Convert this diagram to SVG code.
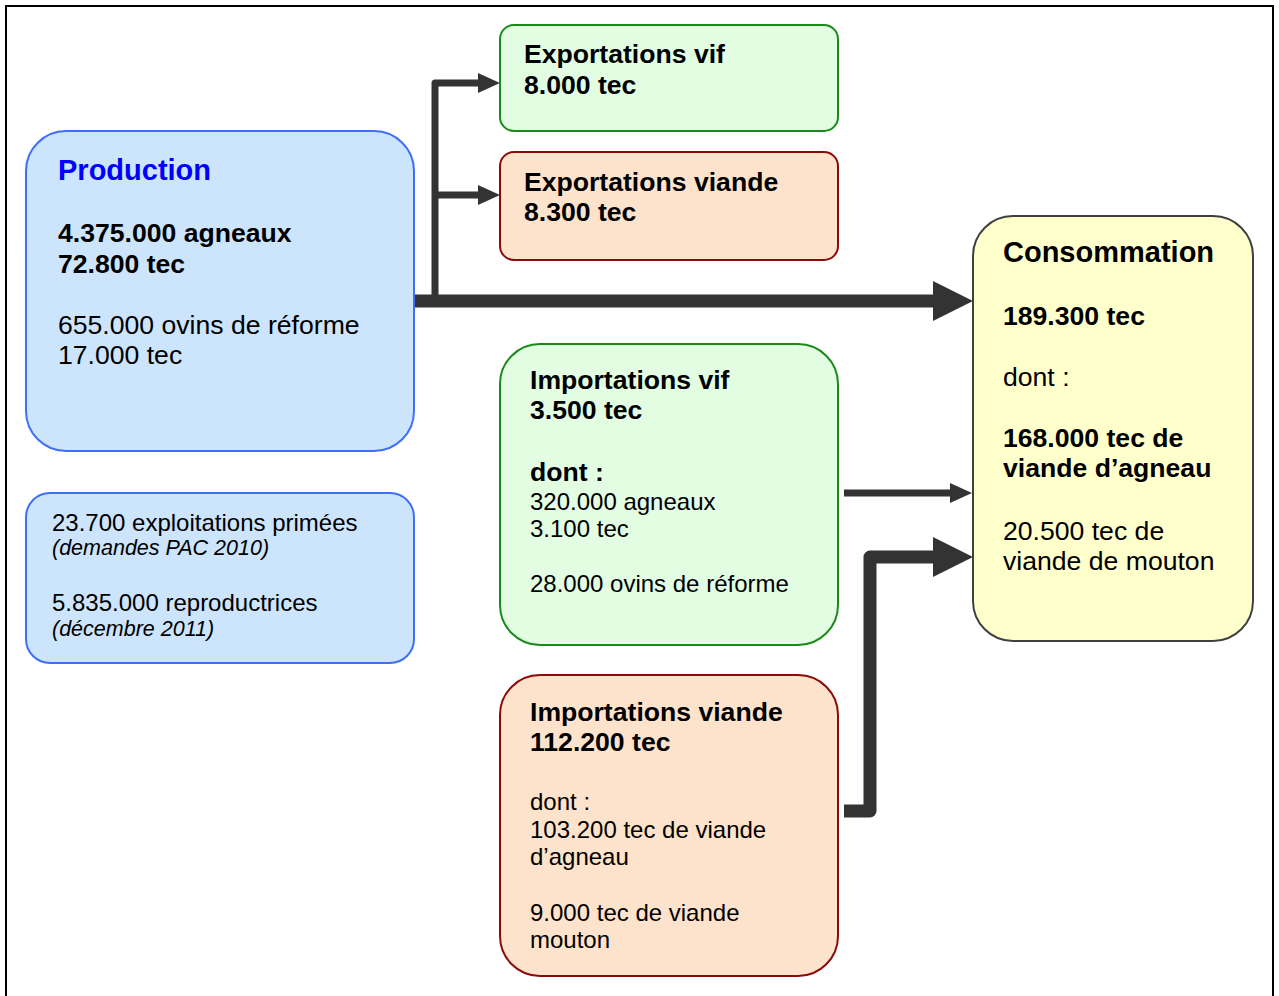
<svg xmlns="http://www.w3.org/2000/svg" width="1279" height="996" viewBox="0 0 1279 996">
<style>
text{font-family:"Liberation Sans",Arial,sans-serif;fill:#000}
.b{font-weight:bold;font-size:26.6px}
.t{font-weight:bold;font-size:29px}
.r{font-size:26.6px}
.s{font-size:24px}
.m{font-size:24px}
.i{font-size:21.5px;font-style:italic}
.blue{fill:#cce4fc;stroke:#3f6ff6;stroke-width:2}
.green{fill:#e2fde2;stroke:#1a8a1a;stroke-width:2}
.peach{fill:#fde3cb;stroke:#8b0a0a;stroke-width:2}
.yellow{fill:#ffffcc;stroke:#404040;stroke-width:2}
.c{fill:none;stroke:#333;stroke-linejoin:round}
</style>
<defs>
<marker id="big" markerUnits="userSpaceOnUse" markerWidth="40" markerHeight="40" refX="0" refY="20" orient="auto"><path d="M0,0 L40,20 L0,40 z" fill="#333"/></marker>
<marker id="small" markerUnits="userSpaceOnUse" markerWidth="22" markerHeight="22" refX="0" refY="11" orient="auto"><path d="M0,1 L22,11 L0,21 z" fill="#333"/></marker>
</defs>
<rect x="6" y="6" width="1267" height="1000" fill="#fff" stroke="#000" stroke-width="2"/>
<g id="connectors">
<path class="c" d="M414,301 H933" stroke-width="13" marker-end="url(#big)"/>
<path class="c" d="M435,301 V83 H478" stroke-width="7" marker-end="url(#small)"/>
<path class="c" d="M435,195 H478" stroke-width="7" marker-end="url(#small)"/>
<path class="c" d="M844,493 H950" stroke-width="7" marker-end="url(#small)"/>
<path class="c" d="M844,811 H870 V557 H933" stroke-width="13" marker-end="url(#big)"/>
</g>
<g id="production">
<rect class="blue" x="26" y="131" width="388" height="320" rx="40"/>
<text class="t" x="58" y="180" style="fill:#0000ff">Production</text>
<text class="b" x="58" y="242">4.375.000 agneaux</text>
<text class="b" x="58" y="273">72.800 tec</text>
<text class="r" x="58" y="334">655.000 ovins de réforme</text>
<text class="r" x="58" y="364">17.000 tec</text>
</g>
<g id="stats">
<rect class="blue" x="26" y="493" width="388" height="170" rx="24"/>
<text class="m" x="52" y="531">23.700 exploitations primées</text>
<text class="i" x="52" y="555">(demandes PAC 2010)</text>
<text class="m" x="52" y="611">5.835.000 reproductrices</text>
<text class="i" x="52" y="636">(décembre 2011)</text>
</g>
<g id="export-vif">
<rect class="green" x="500" y="25" width="338" height="106" rx="14"/>
<text class="b" x="524" y="63">Exportations vif</text>
<text class="b" x="524" y="94">8.000 tec</text>
</g>
<g id="export-viande">
<rect class="peach" x="500" y="152" width="338" height="108" rx="14"/>
<text class="b" x="524" y="191">Exportations viande</text>
<text class="b" x="524" y="221">8.300 tec</text>
</g>
<g id="import-vif">
<rect class="green" x="500" y="344" width="338" height="301" rx="40"/>
<text class="b" x="530" y="389">Importations vif</text>
<text class="b" x="530" y="419">3.500 tec</text>
<text class="b" x="530" y="481">dont :</text>
<text class="s" x="530" y="510">320.000 agneaux</text>
<text class="s" x="530" y="537">3.100 tec</text>
<text class="s" x="530" y="592">28.000 ovins de réforme</text>
</g>
<g id="import-viande">
<rect class="peach" x="500" y="675" width="338" height="301" rx="40"/>
<text class="b" x="530" y="721">Importations viande</text>
<text class="b" x="530" y="751">112.200 tec</text>
<text class="s" x="530" y="810">dont :</text>
<text class="s" x="530" y="838">103.200 tec de viande</text>
<text class="s" x="530" y="865">d’agneau</text>
<text class="s" x="530" y="921">9.000 tec de viande</text>
<text class="s" x="530" y="948">mouton</text>
</g>
<g id="consommation">
<rect class="yellow" x="973" y="216" width="280" height="425" rx="40"/>
<text class="t" x="1003" y="262">Consommation</text>
<text class="b" x="1003" y="325">189.300 tec</text>
<text class="r" x="1003" y="386">dont :</text>
<text class="b" x="1003" y="447">168.000 tec de</text>
<text class="b" x="1003" y="477">viande d’agneau</text>
<text class="r" x="1003" y="540">20.500 tec de</text>
<text class="r" x="1003" y="570">viande de mouton</text>
</g>
</svg>
